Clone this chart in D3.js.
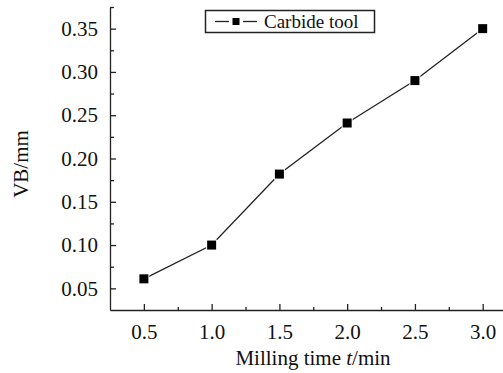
<!DOCTYPE html>
<html>
<head>
<meta charset="utf-8">
<script src="https://cdn.jsdelivr.net/npm/d3@7"></script>
<style>
body { margin: 0; background: #fff; }
svg { display: block; }
text { font-family: "Liberation Serif", "Times New Roman", serif; fill: #111; }
</style>
</head>
<body>
<svg id="chart" width="503" height="373"></svg>
<script>
var times = [0.5, 1.0, 1.5, 2.0, 2.5, 3.0]
var wear = [0.061, 0.100, 0.182, 0.241, 0.290, 0.350]
var xTicks = [0.5, 1.0, 1.5, 2.0, 2.5, 3.0]
var yTicks = [0.05, 0.10, 0.15, 0.20, 0.25, 0.30, 0.35]
var seriesName = "Carbide tool"

var svg = d3.select("svg#chart")

var x = d3.scaleLinear().domain([0.25, 3.15]).range([110, 503])
var y = d3.scaleLinear().domain([0.025, 0.375]).range([310, 7])

var data = times.map(function(t, i) { return {t: t, v: wear[i]} })

// axes: ticks point inward, minor ticks in between
var xMinor = d3.range(0.75, 3.1, 0.5)
var yMinor = d3.range(0.075, 0.38, 0.05)

var gx = svg.append("g").attr("transform", "translate(0,310)")
gx.call(d3.axisBottom(x).tickValues(xTicks).tickSizeInner(-6).tickSizeOuter(0).tickPadding(14)
    .tickFormat(d3.format(".1f")))
gx.append("g").call(d3.axisBottom(x).tickValues(xMinor).tickSizeInner(-3).tickSizeOuter(0).tickFormat(""))
    .select(".domain").remove()

var gy = svg.append("g").attr("transform", "translate(110,0)")
gy.call(d3.axisLeft(y).tickValues(yTicks).tickSizeInner(-6).tickSizeOuter(0).tickPadding(12)
    .tickFormat(d3.format(".2f")))
gy.append("g").call(d3.axisLeft(y).tickValues(yMinor).tickSizeInner(-4).tickSizeOuter(0).tickFormat(""))
    .select(".domain").remove()

svg.selectAll("g").attr("font-family", null).attr("font-size", null)
svg.selectAll(".tick text").attr("font-size", 21).attr("fill", "#111")
svg.selectAll(".domain, .tick line").attr("stroke", "#222").attr("stroke-width", 1.3)

// line
svg.append("path")
    .datum(data)
    .attr("fill", "none")
    .attr("stroke", "#222")
    .attr("stroke-width", 1.3)
    .attr("d", d3.line().x(function(d) { return x(d.t) }).y(function(d) { return y(d.v) }))

svg.selectAll("rect.pt")
    .data(data)
    .enter().append("rect")
    .attr("class", "pt")
    .attr("x", function(d) { return x(d.t) - 4.5 })
    .attr("y", function(d) { return y(d.v) - 4.5 })
    .attr("width", 9)
    .attr("height", 9)
    .attr("fill", "#000")
    .attr("stroke", "#fff")
    .attr("stroke-width", 2)
    .attr("paint-order", "stroke")

// axis titles
svg.append("text")
    .attr("transform", "translate(28,164) rotate(-90)")
    .attr("text-anchor", "middle")
    .style("font-size", "21px")
    .text("VB/mm")

var xl = svg.append("text")
    .attr("x", 313).attr("y", 365)
    .attr("text-anchor", "middle")
    .style("font-size", "21px")
xl.append("tspan").text("Milling time ")
xl.append("tspan").style("font-style", "italic").text("t")
xl.append("tspan").text("/min")

// legend
var lg = svg.append("g")
lg.append("rect").attr("x", 205.5).attr("y", 10.5).attr("width", 169).attr("height", 22)
    .attr("fill", "#fff").attr("stroke", "#222").attr("stroke-width", 1.5)
lg.append("line").attr("x1", 215).attr("x2", 229).attr("y1", 21.5).attr("y2", 21.5).attr("stroke", "#222").attr("stroke-width", 1.3)
lg.append("line").attr("x1", 243).attr("x2", 257).attr("y1", 21.5).attr("y2", 21.5).attr("stroke", "#222").attr("stroke-width", 1.3)
lg.append("rect").attr("x", 232.5).attr("y", 18).attr("width", 7).attr("height", 7).attr("fill", "#000")
lg.append("text").attr("x", 264).attr("y", 28).style("font-size", "19px").text(seriesName)
</script>
</body>
</html>
